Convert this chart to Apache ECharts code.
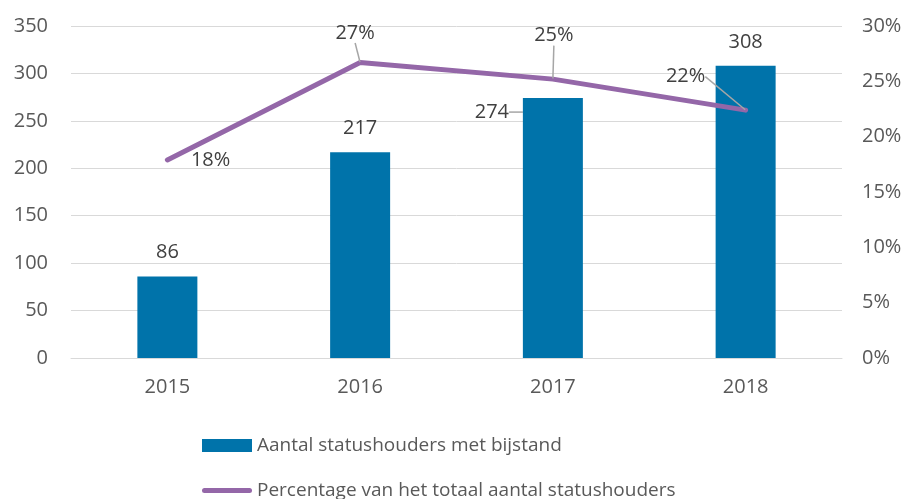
<!DOCTYPE html>
<html>
<head>
<meta charset="utf-8">
<script src="https://cdn.jsdelivr.net/npm/echarts@6/dist/echarts.min.js"></script>
<style>
  html, body { margin: 0; padding: 0; background: #fff; }
  #chart { width: 907px; height: 499px; }
</style>
</head>
<body>
<div id="chart"></div>
<script>
  // data
  var years = ['2015', '2016', '2017', '2018'];
  var aantal = [86, 217, 274, 308];
  var percentage = [17.9, 26.7, 25.2, 22.4];
  var leftTicks = [0, 350, 50];
  var rightTicks = [0, 30, 5];

  var barName = 'Aantal statushouders met bijstand';
  var lineName = 'Percentage van het totaal aantal statushouders';

  var fontName = 'Open Sans';
  var textColor = '#404040';
  var axisColor = '#595959';
  var barColor = '#0073aa';
  var lineColor = '#9467a8';

  var myChart = echarts.init(document.getElementById('chart'));

  // bar labels: 2017 is pulled left with a leader line
  var barData = aantal.map(function (v, i) {
    var item = { value: v };
    if (i === 2) item.labelLine = { show: true };
    return item;
  });
  // line labels: 2015 sits to the right, the others have leader lines
  var lineData = percentage.map(function (v, i) {
    var item = { value: v };
    if (i === 0) item.label = { position: 'right', distance: 23, offset: [0, 3] };
    else item.labelLine = { show: true };
    return item;
  });

  var legendText = { fontSize: 19, color: axisColor, fontFamily: fontName, padding: [0, 0, 0, 0] };

  var option = {
    animation: false,
    textStyle: { fontFamily: fontName },
    grid: { left: 71, right: 65, top: 26, bottom: 141 },
    // two legends so the items stack like the original
    legend: [{
      left: 197,
      top: 431,
      itemWidth: 50,
      itemHeight: 13,
      textStyle: legendText,
      data: [{ name: barName, icon: 'rect' }]
    }, {
      left: 197,
      top: 476,
      itemWidth: 50,
      itemHeight: 13,
      textStyle: legendText,
      data: [{
        name: lineName,
        icon: 'path://M2.5,0 L47.5,0 A2.5,2.5 0 0 1 47.5,5 L2.5,5 A2.5,2.5 0 0 1 2.5,0 Z',
        itemStyle: { color: lineColor }
      }]
    }],
    xAxis: {
      type: 'category',
      data: years,
      axisLine: { show: true, lineStyle: { color: '#d9d9d9', width: 1 } },
      axisTick: { show: false },
      axisLabel: { fontSize: 20, color: axisColor, margin: 19 }
    },
    yAxis: [{
      type: 'value',
      min: leftTicks[0],
      max: leftTicks[1],
      interval: leftTicks[2],
      axisLine: { show: false },
      axisTick: { show: false },
      splitLine: { lineStyle: { color: '#d9d9d9', width: 1 } },
      axisLabel: { fontSize: 20, color: axisColor, margin: 23 }
    }, {
      type: 'value',
      min: rightTicks[0],
      max: rightTicks[1],
      interval: rightTicks[2],
      axisLine: { show: false },
      axisTick: { show: false },
      splitLine: { show: false },
      axisLabel: { fontSize: 20, color: axisColor, margin: 20, formatter: '{value}%' }
    }],
    series: [{
      name: barName,
      type: 'bar',
      barWidth: 60,
      yAxisIndex: 0,
      data: barData,
      itemStyle: { color: barColor },
      label: { show: true, position: 'top', distance: 14, fontSize: 20, color: textColor },
      labelLine: { show: false, lineStyle: { color: '#a6a6a6', width: 1.5 } },
      labelLayout: function (params) {
        if (params.dataIndex === 2) return { dx: -61, dy: 38 };
        return {};
      },
      z: 1
    }, {
      name: lineName,
      type: 'line',
      yAxisIndex: 1,
      data: lineData,
      symbol: 'circle',
      symbolSize: 1,
      showSymbol: true,
      lineStyle: { color: lineColor, width: 5, cap: 'round', join: 'round' },
      itemStyle: { color: lineColor },
      label: {
        show: true, position: 'top', distance: 10, fontSize: 20, color: textColor,
        formatter: function (p) { return Math.round(p.value) + '%'; }
      },
      labelLine: { show: false, lineStyle: { color: '#a6a6a6', width: 1.5 } },
      labelLayout: function (params) {
        if (params.dataIndex === 1) return { dx: -5, dy: -9 };
        if (params.dataIndex === 2) return { dx: 1, dy: -23 };
        if (params.dataIndex === 3) return { dx: -60, dy: -13 };
        return {};
      },
      z: 3
    }]
  };
  myChart.setOption(option);
</script>
</body>
</html>
